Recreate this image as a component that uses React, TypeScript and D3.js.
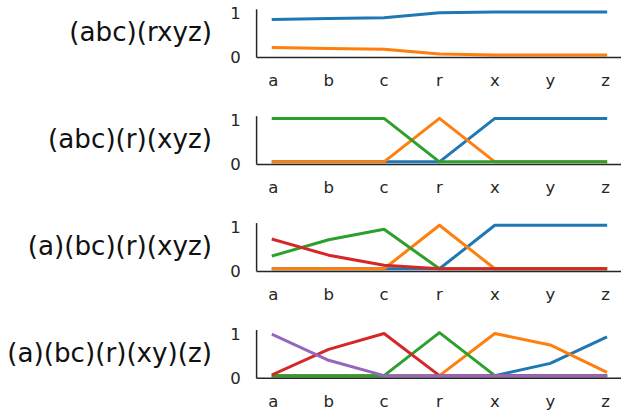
import React from "react";
import * as d3 from "d3";

const categories = ["a", "b", "c", "r", "x", "y", "z"];
const titles = ["(abc)(rxyz)", "(abc)(r)(xyz)", "(a)(bc)(r)(xyz)", "(a)(bc)(r)(xy)(z)"];
const yTicks = [0, 1];
const colors = ["#1f77b4", "#ff7f0e", "#2ca02c", "#d62728", "#9467bd"];

// Panel 1: (abc)(rxyz)
const p1Blue = [0.82, 0.84, 0.86, 0.97, 0.99, 0.99, 0.99];
const p1Orange = [0.18, 0.16, 0.14, 0.03, 0.01, 0.01, 0.01];

// Panel 2: (abc)(r)(xyz)
const p2Blue = [0.01, 0.01, 0.01, 0.01, 1.0, 1.0, 1.0];
const p2Orange = [0.01, 0.01, 0.01, 1.0, 0.01, 0.01, 0.01];
const p2Green = [1.0, 1.0, 1.0, 0.01, 0.01, 0.01, 0.01];

// Panel 3: (a)(bc)(r)(xyz)
const p3Blue = [0.01, 0.01, 0.01, 0.01, 1.0, 1.0, 1.0];
const p3Orange = [0.01, 0.01, 0.01, 1.0, 0.01, 0.01, 0.01];
const p3Green = [0.31, 0.67, 0.91, 0.01, 0.01, 0.01, 0.01];
const p3Red = [0.68, 0.32, 0.09, 0.01, 0.01, 0.01, 0.01];

// Panel 4: (a)(bc)(r)(xy)(z)
const p4Blue = [0.01, 0.01, 0.01, 0.01, 0.01, 0.29, 0.88];
const p4Orange = [0.01, 0.01, 0.01, 0.01, 0.97, 0.71, 0.1];
const p4Green = [0.01, 0.01, 0.01, 0.99, 0.01, 0.01, 0.01];
const p4Red = [0.04, 0.61, 0.97, 0.01, 0.01, 0.01, 0.01];
const p4Purple = [0.94, 0.36, 0.01, 0.01, 0.01, 0.01, 0.01];

const panels = [
  [p1Blue, p1Orange],
  [p2Blue, p2Orange, p2Green],
  [p3Blue, p3Orange, p3Green, p3Red],
  [p4Blue, p4Orange, p4Green, p4Red, p4Purple],
];

const W = 621;
const H = 410;
const axLeft = 256.6;
const axRight = 622.3;
const axTop0 = 9.3;
const axPitch = 106.9;
const axH = 48.3;
const textColor = "#262626";
const font = "DejaVu Sans, sans-serif";

export default function App() {
  const x = d3.scaleLinear().domain([-0.3, categories.length - 1 + 0.3]).range([axLeft, axRight]);
  return (
    <svg width={W} height={H} style={{ position: "absolute", left: 0, top: 0, background: "#fff" }}>
      {panels.map((series, pi) => {
        const top = axTop0 + pi * axPitch;
        const y = d3.scaleLinear().domain([-0.05, 1.05]).range([top + axH, top]);
        const line = d3
          .line<number>()
          .x((_, i) => x(i))
          .y((v) => y(v));
        return (
          <g key={pi}>
            <text
              x={212}
              y={top + axH / 2 + 8}
              textAnchor="end"
              fontFamily={font}
              fontSize={26.2}
              fill="#111"
            >
              {titles[pi]}
            </text>
            {yTicks.map((t) => (
              <text
                key={t}
                x={240.7}
                y={y(t) + 7.5}
                textAnchor="end"
                fontFamily={font}
                fontSize={16.5}
                fill={textColor}
              >
                {t}
              </text>
            ))}
            {categories.map((c, i) => (
              <text
                key={c}
                x={x(i)}
                y={top + axH + 28.5}
                textAnchor="middle"
                fontFamily={font}
                fontSize={16.5}
                fill={textColor}
              >
                {c}
              </text>
            ))}
            {series.map((s, si) => (
              <path
                key={si}
                d={line(s) || ""}
                fill="none"
                stroke={colors[si]}
                strokeWidth={3}
                strokeLinecap="square"
                strokeLinejoin="round"
              />
            ))}
            <line x1={axLeft} x2={axLeft} y1={top} y2={top + axH} stroke={textColor} strokeWidth={1.5} />
            <line x1={axLeft} x2={axRight} y1={top + axH} y2={top + axH} stroke={textColor} strokeWidth={1.5} />
          </g>
        );
      })}
    </svg>
  );
}
